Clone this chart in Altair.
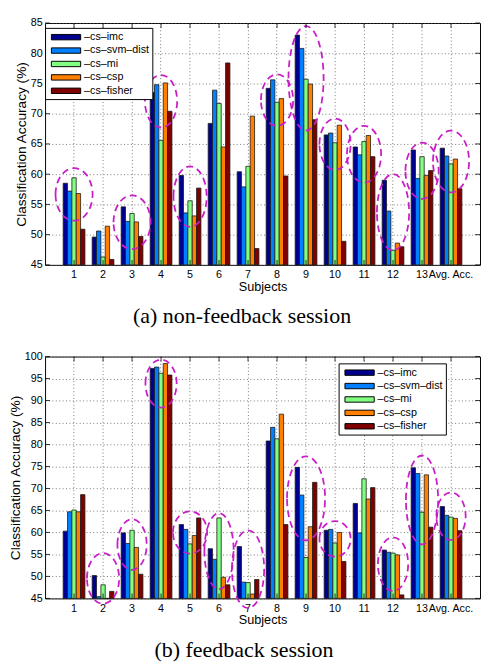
import altair as alt
import pandas as pd

subjects = ['1', '2', '3', '4', '5', '6', '7', '8', '9', '10', '11', '12', '13', 'Avg. Acc.']
methods = ['–cs–imc', '–cs–svm–dist', '–cs–mi', '–cs–csp', '–cs–fisher']
colors = ['#00008F', '#0080FF', '#80FF80', '#FF8000', '#800000']

# (a) non-feedback session
nf_imc = [58.5, 49.6, 54.6, 73.5, 59.8, 68.4, 60.4, 74.2, 83.0, 66.5, 64.5, 59.0, 64.0, 64.3]
nf_svm = [57.2, 50.6, 52.2, 74.8, 53.6, 73.9, 57.9, 75.6, 80.8, 66.8, 63.2, 53.9, 59.3, 63.0]
nf_mi = [59.4, 46.3, 53.5, 65.6, 55.6, 71.7, 61.3, 71.9, 75.7, 65.2, 65.4, 47.4, 62.9, 61.7]
nf_csp = [56.8, 51.4, 52.1, 75.1, 53.1, 64.5, 69.6, 72.5, 74.9, 68.1, 66.4, 48.6, 59.8, 62.5]
nf_fisher = [50.9, 45.9, 49.7, 70.4, 57.7, 78.4, 47.7, 59.7, 69.0, 48.9, 62.9, 48.0, 60.6, 57.6]

# (b) feedback session
fb_imc = [60.3, 50.2, 59.9, 97.3, 61.8, 56.3, 56.8, 80.8, 74.8, 60.5, 66.6, 56.0, 74.7, 65.9]
fb_svm = [64.7, 45.4, 57.5, 97.6, 60.7, 53.9, 48.7, 83.9, 68.5, 60.7, 59.9, 55.5, 73.4, 63.9]
fb_mi = [65.1, 48.1, 60.5, 96.2, 57.4, 63.3, 48.6, 81.3, 54.3, 57.6, 72.2, 55.3, 64.6, 63.5]
fb_csp = [64.7, 44.0, 56.6, 98.4, 59.3, 49.8, 46.0, 86.9, 61.3, 60.0, 67.6, 54.9, 73.1, 63.2]
fb_fisher = [68.6, 46.6, 50.5, 95.8, 63.3, 48.1, 49.3, 61.8, 71.4, 53.4, 70.2, 45.8, 61.2, 60.4]

yticks_a = [45, 50, 55, 60, 65, 70, 75, 80, 85]
yticks_b = [45, 50, 55, 60, 65, 70, 75, 80, 85, 90, 95, 100]

# highlighted groups (dashed ellipses): subject, lower value, upper value, width in px
ell_a_subj = ['1', '3', '4', '5', '8', '9', '10', '11', '12', '13', 'Avg. Acc.']
ell_a_lo = [52.3, 47.6, 67.7, 51.3, 68.0, 67.2, 60.7, 58.6, 47.4, 55.9, 57.0]
ell_a_hi = [61.0, 56.5, 76.4, 61.3, 76.5, 84.5, 69.2, 68.0, 60.0, 65.2, 67.2]
ell_a_w = [38, 38, 33, 34, 33, 36, 32, 35, 33, 34, 37]

ell_b_subj = ['2', '3', '4', '5', '6', '7', '9', '10', '12', '13', 'Avg. Acc.']
ell_b_lo = [43.8, 51.5, 88.4, 55.2, 47.1, 42.8, 58.2, 54.5, 46.7, 57.3, 58.3]
ell_b_hi = [55.3, 63.0, 99.3, 64.8, 64.4, 60.5, 77.3, 62.6, 58.9, 77.5, 69.1]
ell_b_w = [33, 30, 32, 35, 30, 33, 39, 32, 31, 33, 30]

W = 446
H = 248
MAG = '#c81ec8'
# legend swatch: 30 x 11 px rectangle drawn to the right of a 12 px symbol slot
LEGEND_SYMBOL = 'M-0.5,-0.46H4.5V0.46H-0.5Z'


def panel(series, ymin, ymax, yticks, ell, caption, lx, ly, cdx):
    rows = []
    for m, vals in zip(methods, series):
        for s, v in zip(subjects, vals):
            rows.append({'subject': s, 'method': m, 'value': v})
    df = pd.DataFrame(rows)

    ppu = H / (ymax - ymin)
    erows = []
    for s, lo, hi, w in zip(*ell):
        h = (hi - lo) * ppu
        a = w / h
        path = f'M{-a:.4f},0A{a:.4f},1 0 1,1 {a:.4f},0A{a:.4f},1 0 1,1 {-a:.4f},0Z'
        erows.append({'subject': s, 'value': (lo + hi) / 2, 'path': path, 'sz': h * h})
    edf = pd.DataFrame(erows)

    xscale = alt.Scale(domain=subjects, paddingInner=0.25, paddingOuter=0.625)
    yscale = alt.Scale(domain=[ymin, ymax], zero=False, nice=False, clamp=True)

    xaxis = alt.Axis(title='Subjects', labelAngle=0, ticks=False, domain=False, grid=True,
                     bandPosition=0.5, gridDash=[1, 2.5], gridColor='#555', gridWidth=0.8,
                     labelFontSize=11, labelPadding=4, labelOverlap=False, labelColor='black',
                     titleFontSize=13, titleFontWeight='normal', titlePadding=1, titleColor='black')
    yaxis = alt.Axis(title='Classification Accuracy (%)', values=yticks, ticks=False, domain=False,
                     grid=True, gridDash=[1, 2.5], gridColor='#555', gridWidth=0.8,
                     labelFontSize=11, labelPadding=3, labelColor='black', labelOverlap=False,
                     labelFlush=False, labelSeparation=0,
                     titleFontSize=14, titleFontWeight='normal', titleColor='black',
                     titlePadding=2)

    X = alt.X('subject:N', sort=subjects, scale=xscale, axis=xaxis)
    Y = alt.Y('value:Q', scale=yscale, axis=yaxis)

    bars = alt.Chart(df).mark_bar(stroke='#1a1a1a', strokeWidth=0.8).encode(
        x=X,
        xOffset=alt.XOffset('method:N', sort=methods,
                            scale=alt.Scale(domain=methods, paddingInner=0, paddingOuter=0)),
        y=Y,
        color=alt.Color('method:N', sort=methods, scale=alt.Scale(domain=methods, range=colors),
                        legend=alt.Legend(title=None, orient='none', legendX=lx, legendY=ly,
                                          symbolType=LEGEND_SYMBOL, symbolSize=144,
                                          symbolStrokeColor='black', symbolStrokeWidth=1,
                                          labelFontSize=11, labelOffset=24, labelColor='black',
                                          rowPadding=1.75, padding=3, strokeColor='black',
                                          fillColor='white')),
    )

    ellipses = alt.Chart(edf).mark_point(filled=False, color=MAG, strokeWidth=1.8,
                                         strokeDash=[7, 4.5], opacity=1).encode(
        x=X,
        y=Y,
        shape=alt.Shape('path:N', scale=None),
        size=alt.Size('sz:Q', scale=None),
    )

    tdf = pd.DataFrame({'subject': subjects})
    vdf = pd.DataFrame({'value': yticks})
    top_ticks = alt.Chart(tdf).mark_rule(color='black', strokeWidth=0.8).encode(
        x=X, y=alt.value(0), y2=alt.value(5))
    bot_ticks = alt.Chart(tdf).mark_rule(color='black', strokeWidth=0.8).encode(
        x=X, y=alt.value(H - 5), y2=alt.value(H))
    left_ticks = alt.Chart(vdf).mark_rule(color='black', strokeWidth=0.8).encode(
        y=Y, x=alt.value(0), x2=alt.value(5))
    right_ticks = alt.Chart(vdf).mark_rule(color='black', strokeWidth=0.8).encode(
        y=Y, x=alt.value(W - 5), x2=alt.value(W))

    return alt.layer(bars, ellipses, top_ticks, bot_ticks, left_ticks, right_ticks).properties(
        width=W, height=H,
        title=alt.TitleParams(caption, orient='bottom', anchor='middle', frame='group',
                              font='Liberation Serif', fontSize=22.5, fontWeight='normal',
                              offset=13, dx=cdx, color='black'),
    )


top = panel([nf_imc, nf_svm, nf_mi, nf_csp, nf_fisher], 45, 85, yticks_a,
            (ell_a_subj, ell_a_lo, ell_a_hi, ell_a_w), '(a) non-feedback session', 0, 5, -21)
bottom = panel([fb_imc, fb_svm, fb_mi, fb_csp, fb_fisher], 45, 100, yticks_b,
               (ell_b_subj, ell_b_lo, ell_b_hi, ell_b_w), '(b) feedback session', 301, 7, -19)

chart = alt.vconcat(top, bottom, spacing=22).resolve_scale(
    color='independent'
).resolve_legend(
    color='independent'
).properties(
    padding={'left': 0, 'top': 0, 'right': 0, 'bottom': 0}
).configure(font='Liberation Sans').configure_view(
    stroke='black', strokeWidth=1
).configure_axis(labelOverlap=False)

chart.save('out.html', embed_options={'renderer': 'svg', 'actions': False})
